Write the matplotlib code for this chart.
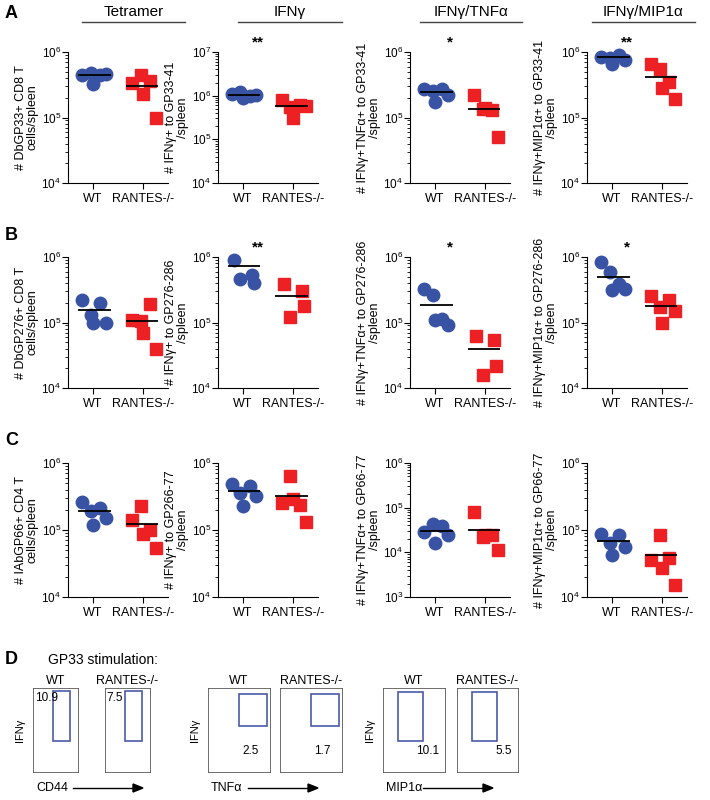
import matplotlib
matplotlib.use("Agg")
import matplotlib.pyplot as plt
import numpy as np
from matplotlib.ticker import LogLocator

plt.rcParams['font.family'] = ['Liberation Sans', 'DejaVu Sans']

groups = ["WT", "RANTES-/-"]
headers = ["Tetramer", "IFNγ", "IFNγ/TNFα", "IFNγ/MIP1α"]

ylabels = [
    ["# DbGP33+ CD8 T\ncells/spleen", "# IFNγ+ to GP33-41\n/spleen",
     "# IFNγ+TNFα+ to GP33-41\n/spleen", "# IFNγ+MIP1α+ to GP33-41\n/spleen"],
    ["# DbGP276+ CD8 T\ncells/spleen", "# IFNγ+ to GP276-286\n/spleen",
     "# IFNγ+TNFα+ to GP276-286\n/spleen", "# IFNγ+MIP1α+ to GP276-286\n/spleen"],
    ["# IAbGP66+ CD4 T\ncells/spleen", "# IFNγ+ to GP266-77\n/spleen",
     "# IFNγ+TNFα+ to GP66-77\n/spleen", "# IFNγ+MIP1α+ to GP66-77\n/spleen"],
]

wt_vals = [
    [[4.5e5, 4.7e5, 4.4e5, 3.2e5, 4.6e5], [1.1e6, 1.2e6, 1.0e6, 0.9e6, 1.05e6],
     [2.7e5, 2.5e5, 2.7e5, 1.7e5, 2.2e5], [8.5e5, 8.0e5, 9.0e5, 6.5e5, 7.5e5]],
    [[2.2e5, 1.3e5, 2.0e5, 1.0e5, 1.0e5], [9.0e5, 5.3e5, 4.0e5, 4.6e5],
     [3.2e5, 2.6e5, 1.15e5, 1.1e5, 9.0e4], [8.5e5, 5.8e5, 3.9e5, 3.1e5, 3.2e5]],
    [[2.6e5, 1.9e5, 2.1e5, 1.2e5, 1.5e5], [4.9e5, 3.6e5, 4.6e5, 2.3e5, 3.2e5],
     [2.9e4, 4.3e4, 3.8e4, 1.6e4, 2.4e4], [8.8e4, 6.3e4, 8.5e4, 4.2e4, 5.5e4]],
]
ko_vals = [
    [[3.4e5, 4.4e5, 3.6e5, 2.3e5, 1.0e5], [8.0e5, 5.5e5, 6.0e5, 3.0e5, 5.8e5],
     [2.2e5, 1.35e5, 1.3e5, 1.4e5, 5.0e4], [6.5e5, 5.5e5, 3.5e5, 2.8e5, 1.9e5]],
    [[1.1e5, 1.05e5, 1.9e5, 6.8e4, 4.0e4], [3.9e5, 3.0e5, 1.8e5, 1.2e5],
     [6.3e4, 5.4e4, 2.2e4, 1.6e4], [2.5e5, 1.7e5, 2.2e5, 1.0e5, 1.5e5]],
    [[1.4e5, 2.3e5, 1.0e5, 8.8e4, 5.3e4], [2.5e5, 6.3e5, 2.4e5, 2.9e5, 1.3e5],
     [7.8e4, 2.2e4, 2.5e4, 2.4e4, 1.1e4], [3.6e4, 8.3e4, 3.8e4, 2.7e4, 1.5e4]],
]
wt_means = [[4.4e5, 1.05e6, 2.45e5, 8.3e5], [1.55e5, 7.3e5, 1.85e5, 5.0e5], [1.9e5, 3.8e5, 3.0e4, 6.8e4]]
ko_means = [[3.0e5, 5.8e5, 1.35e5, 4.1e5], [1.05e5, 2.5e5, 4.0e4, 1.8e5], [1.25e5, 3.2e5, 3.2e4, 4.2e4]]
ylims = [[(1e4, 1e6), (1e4, 1e7), (1e4, 1e6), (1e4, 1e6)],
         [(1e4, 1e6), (1e4, 1e6), (1e4, 1e6), (1e4, 1e6)],
         [(1e4, 1e6), (1e4, 1e6), (1e3, 1e6), (1e4, 1e6)]]
stars = [["", "**", "*", "**"], ["", "**", "*", "*"], ["", "", "", ""]]

jit5 = [-0.22, -0.05, 0.14, 0.0, 0.26]
jit4 = [-0.18, 0.18, 0.22, -0.05]

W, H = 710, 800
fig = plt.figure(figsize=(7.1, 8.0), dpi=100)

col_left = [68, 218, 410, 587]
row_tb = [(52, 183), (257, 388), (463, 597)]
axw = 100

BLUE = "#3953a4"
RED = "#ed2024"

def fx(px): return px / W
def fy(py): return 1 - py / H

for r in range(3):
    for c in range(4):
        t, b = row_tb[r]
        ax = fig.add_axes([fx(col_left[c]), fy(b), fx(axw), (b - t) / H])
        ax.set_yscale("log")
        ax.set_ylim(*ylims[r][c])
        ax.set_xlim(0, 2)
        for gi, (vals, col, mk, ms) in enumerate([(wt_vals[r][c], BLUE, "o", 9), (ko_vals[r][c], RED, "s", 8.5)]):
            jit = jit5 if len(vals) == 5 else jit4
            xs = [0.5 + gi + j for j in jit[:len(vals)]]
            ax.plot(xs, vals, linestyle="none", marker=mk, color=col,
                    markersize=ms, markeredgecolor=col, zorder=2, clip_on=False)
        ax.hlines(wt_means[r][c], 0.2, 0.85, color="black", lw=1.3, zorder=3)
        ax.hlines(ko_means[r][c], 1.15, 1.8, color="black", lw=1.3, zorder=3)
        ax.set_xticks([0.5, 1.5])
        ax.set_xticklabels(groups, fontsize=9)
        ax.spines["top"].set_visible(False)
        ax.spines["right"].set_visible(False)
        ax.yaxis.set_major_locator(LogLocator(base=10, numticks=10))
        ax.yaxis.set_minor_locator(LogLocator(base=10, subs=np.arange(2, 10), numticks=20))
        ax.tick_params(axis="y", labelsize=8.5, length=4, pad=1)
        ax.tick_params(axis="y", which="minor", length=2)
        ax.tick_params(axis="x", length=4)
        ax.set_ylabel(ylabels[r][c], fontsize=9, labelpad=2, linespacing=1.0)
        if stars[r][c]:
            ax.text(0.4, 1.02, stars[r][c], transform=ax.transAxes, ha="center",
                    va="bottom", fontsize=11, fontweight="bold")

hdr_lines = [(82, 185), (238, 342), (420, 522), (592, 695)]
for (x0, x1), h in zip(hdr_lines, headers):
    fig.text(fx((x0 + x1) / 2), fy(12), h, ha="center", va="center", fontsize=11)
    fig.add_artist(plt.Line2D([fx(x0), fx(x1)], [fy(22), fy(22)], color="#444444", lw=1))

for lab, y in zip("ABCD", [13, 235, 440, 660]):
    fig.text(fx(5), fy(y), lab, fontsize=13, fontweight="bold", va="center")
fig.text(fx(48), fy(660), "GP33 stimulation:", fontsize=10, va="center")

flow_x = [(33, 78), (105, 150), (208, 270), (280, 342), (383, 445), (457, 518)]
flow_titles = ["WT", "RANTES-/-"] * 3
flow_nums = ["10.9", "7.5", "2.5", "1.7", "10.1", "5.5"]
num_pos = [(0.04, 0.85, "left"), (0.04, 0.85, "left"), (0.82, 0.22, "right"),
           (0.82, 0.22, "right"), (0.9, 0.22, "right"), (0.9, 0.22, "right")]
gates = [(0.45, 0.37, 0.38, 0.6), (0.45, 0.37, 0.38, 0.6), (0.5, 0.55, 0.45, 0.38),
         (0.5, 0.55, 0.45, 0.38), (0.25, 0.37, 0.4, 0.58), (0.25, 0.37, 0.4, 0.58)]
xlabels = ["CD44", None, "TNFα", None, "MIP1α", None]
for i, (x0, x1) in enumerate(flow_x):
    ax = fig.add_axes([fx(x0), fy(772), fx(x1 - x0), 84 / H])
    ax.set_xticks([]); ax.set_yticks([])
    for s in ax.spines.values():
        s.set_linewidth(0.6); s.set_color("#555555")
    gx, gy, gw, gh = gates[i]
    ax.add_patch(plt.Rectangle((gx, gy), gw, gh, transform=ax.transAxes,
                               fill=False, edgecolor="#4a5aa8", lw=1.2))
    px, py, ha = num_pos[i]
    ax.text(px, py, flow_nums[i], transform=ax.transAxes, ha=ha, fontsize=8.5)
    ax.set_title(flow_titles[i], fontsize=9, pad=3)
    if i % 2 == 0:
        ax.set_ylabel("IFNγ", fontsize=8, labelpad=6)
        fig.text(fx(x0 + 3), fy(788), xlabels[i], fontsize=9, va="center")
        fig.add_artist(plt.Line2D([fx(x0 + 40), fx(x0 + 105)], [fy(788), fy(788)], color="black", lw=1))
        fig.add_artist(plt.Polygon([[fx(x0 + 110), fy(788)], [fx(x0 + 100), fy(784)], [fx(x0 + 100), fy(792)]],
                                   closed=True, color="black"))

fig.savefig("out.png", dpi=100)
